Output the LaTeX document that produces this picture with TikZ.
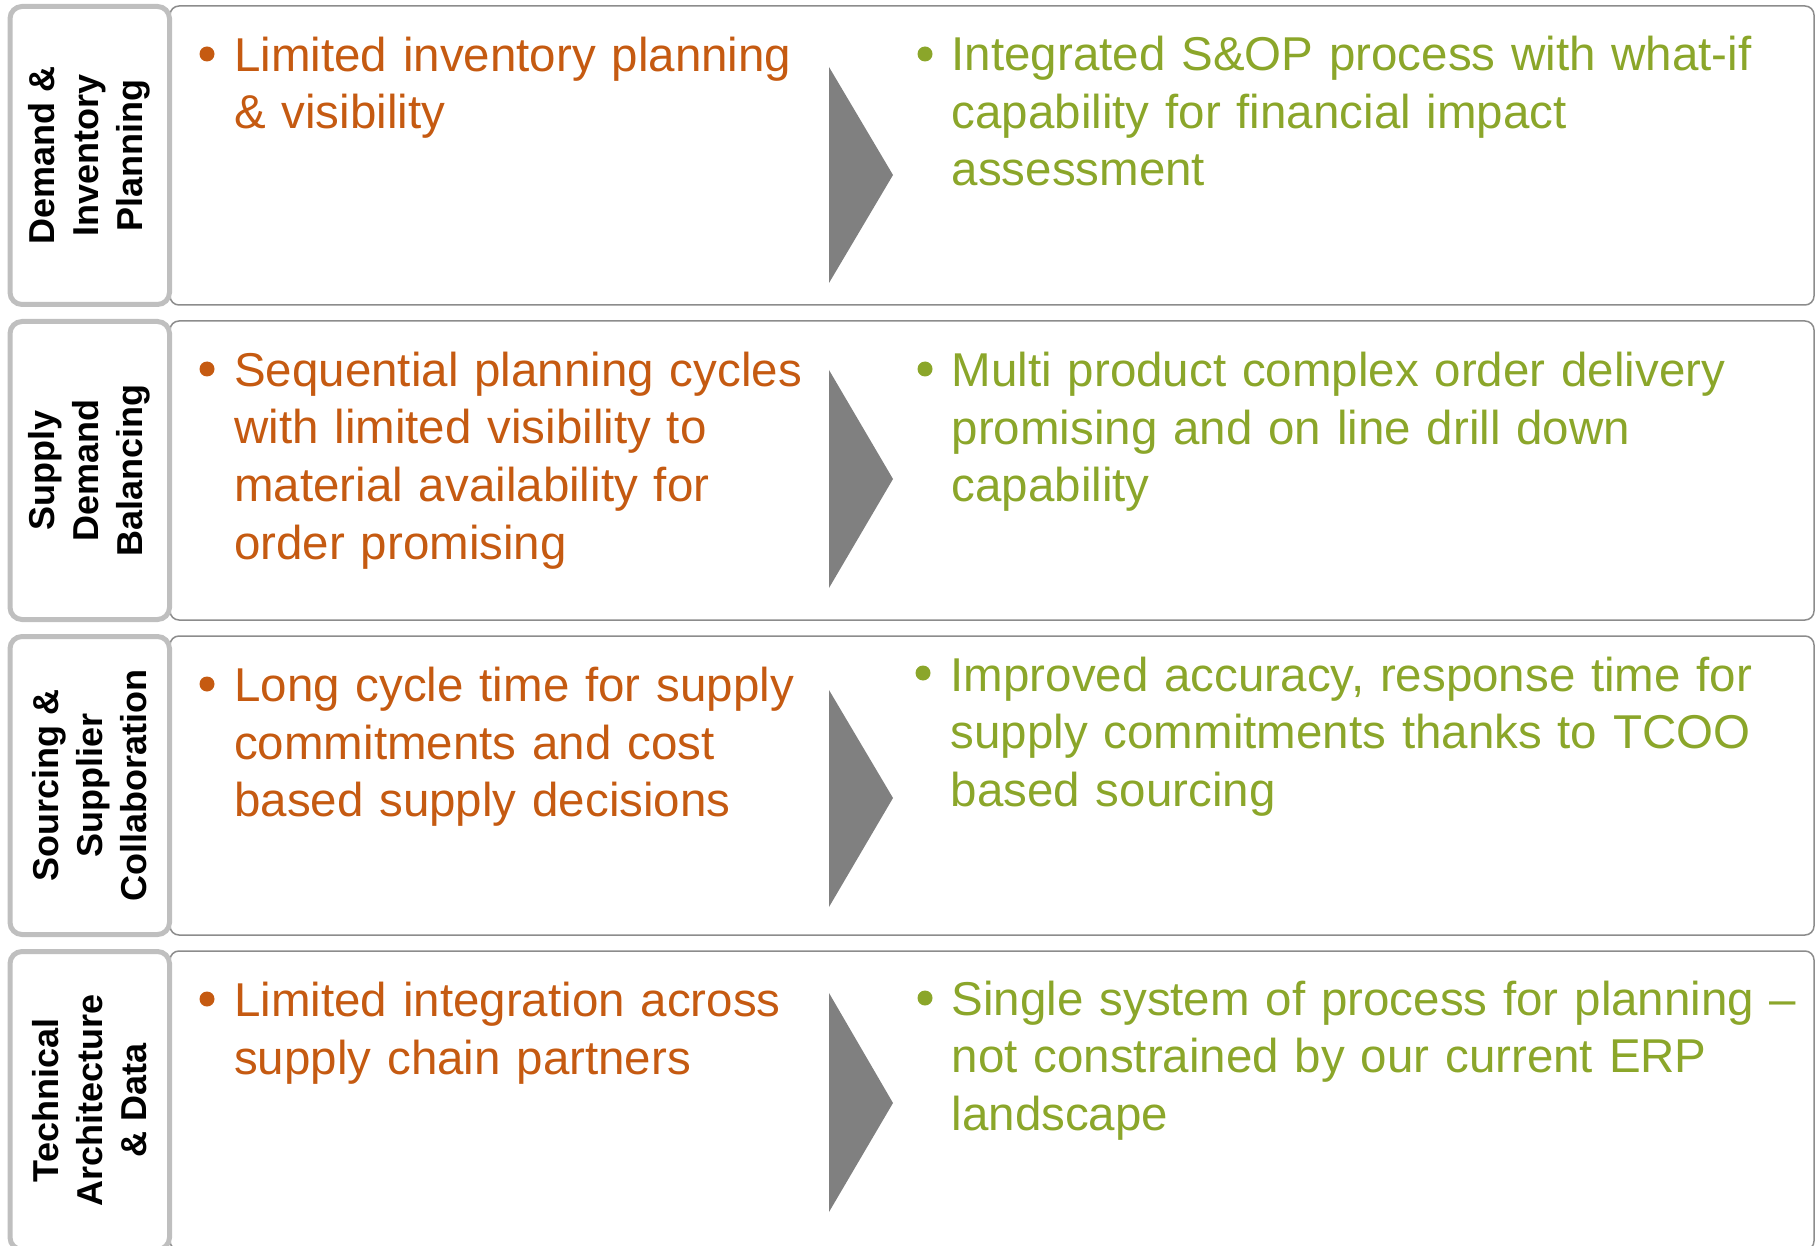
\documentclass[tikz,border=0pt]{standalone}
\usepackage{fontspec}
\setmainfont{Liberation Sans}
\definecolor{ora}{HTML}{C55A11}
\definecolor{grn}{HTML}{8BA62A}
\definecolor{lblgray}{HTML}{BFBFBF}
\definecolor{boxgray}{HTML}{8C8C8C}
\definecolor{arrgray}{HTML}{808080}
\begin{document}
\begin{tikzpicture}[x=1pt,y=-1pt,
  rowbox/.style={draw=boxgray,line width=1.5pt,rounded corners=9pt},
  lblbox/.style={draw=lblgray,fill=white,line width=5pt,rounded corners=12pt},
  lbltext/.style={rotate=90,align=center,inner sep=0pt,font=\fontsize{36}{44}\selectfont\bfseries},
  oldtext/.style={anchor=base west,inner sep=0pt,text width=660pt,align=left,text=ora,font=\fontsize{47.5}{57.5}\selectfont},
  newtext/.style={anchor=base west,inner sep=0pt,text width=880pt,align=left,text=grn,font=\fontsize{47.5}{57.5}\selectfont},
  obullet/.style={circle,fill=ora,inner sep=0pt,minimum size=15pt},
  gbullet/.style={circle,fill=grn,inner sep=0pt,minimum size=15pt},
  chevron/.style={fill=arrgray}]
\useasboundingbox (0,0) rectangle (1820,1246);
\clip (0,0) rectangle (1820,1246);

% ---------- Row 1 ----------
\draw[rowbox] (170,6) rectangle (1814,305);
\draw[lblbox] (10,6.5) rectangle (169.5,304.5);
\node[lbltext] (lab1) at (89.5,155.5) {Demand \&\\Inventory\\Planning};
\node[obullet] (bo1) at (207,54) {};
\node[oldtext] (old1) at (234,71.5) {Limited inventory planning\\\& visibility};
\fill[chevron] (829,67) -- (893,175) -- (829,283) -- cycle;
\node[gbullet] (bg1) at (925,54) {};
\node[newtext] (new1) at (951.5,71) {Integrated S\&OP process with what-if\\capability for financial impact\\assessment};

% ---------- Row 2 ----------
\draw[rowbox] (170,321) rectangle (1814,620);
\draw[lblbox] (10,321.5) rectangle (169.5,619.5);
\node[lbltext] (lab2) at (89.5,470.5) {Supply\\Demand\\Balancing};
\node[obullet] (bo2) at (207,369) {};
\node[oldtext] (old2) at (234,386.5) {Sequential planning cycles\\with limited visibility to\\material availability for\\order promising};
\fill[chevron] (829,370) -- (893,479) -- (829,588) -- cycle;
\node[gbullet] (bg2) at (925,369) {};
\node[newtext] (new2) at (951.5,387) {Multi product complex order delivery\\promising and on line drill down\\capability};

% ---------- Row 3 ----------
\draw[rowbox] (170,636) rectangle (1814,935);
\draw[lblbox] (10,636.5) rectangle (169.5,934.5);
\node[lbltext] (lab3) at (89.5,785.5) {Sourcing \&\\Supplier\\Collaboration};
\node[obullet] (bo3) at (207,684) {};
\node[oldtext] (old3) at (234,701.5) {Long cycle time for supply\\commitments and cost\\based supply decisions};
\fill[chevron] (829,690) -- (893,798) -- (829,907) -- cycle;
\node[gbullet] (bg3) at (923,673) {};
\node[newtext] (new3) at (950.5,691) {Improved accuracy, response time for\\supply commitments thanks to TCOO\\based sourcing};

% ---------- Row 4 ----------
\draw[rowbox] (170,951) rectangle (1814,1250);
\draw[lblbox] (10,951.5) rectangle (169.5,1249.5);
\node[lbltext] (lab4) at (89.5,1100.5) {Technical\\Architecture\\\& Data};
\node[obullet] (bo4) at (207,999) {};
\node[oldtext] (old4) at (234,1016.5) {Limited integration across\\supply chain partners};
\fill[chevron] (829,993) -- (893,1103) -- (829,1212) -- cycle;
\node[gbullet] (bg4) at (925,998) {};
\node[newtext] (new4) at (951.5,1015) {Single system of process for planning –\\not constrained by our current ERP\\landscape};
\end{tikzpicture}
\end{document}
